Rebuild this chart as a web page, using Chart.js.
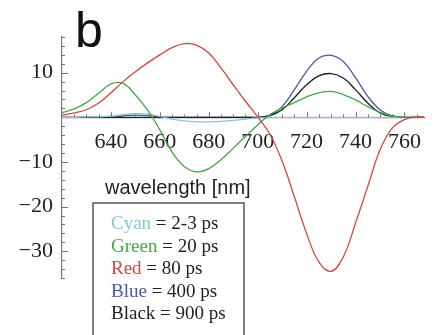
<!DOCTYPE html>
<html>
<head>
<meta charset="utf-8">
<script src="https://cdn.jsdelivr.net/npm/chart.js@4"></script>
<style>
  html, body { margin: 0; padding: 0; background: #fff; }
  #wrap { width: 436px; height: 335px; }
</style>
</head>
<body>
<div id="wrap"><canvas id="spectra" width="436" height="335"></canvas></div>
<script>
// wavelength grid (nm)
const wavelengths = [620, 625, 630, 635, 640, 645, 650, 655, 660, 665, 670, 675, 680, 685, 690,
                     695, 700, 705, 710, 715, 720, 725, 730, 735, 740, 745, 750, 755, 760, 765, 768];

// amplitude spectra, one per lifetime component
const cyanValues  = [0, 0, 0.1, 0.1, 0.3, 0.6, 0.8, 0.7, 0.2, -0.4, -0.8, -1.0, -1.0, -0.9, -0.7,
                     -0.4, -0.1, 0, 0, 0, 0, 0, 0, 0, 0, 0, 0, 0, 0, 0, 0];
const greenValues = [1.0, 1.9, 3.3, 5.4, 7.5, 7.6, 5.0, 1.6, -2.8, -7.8, -11.0, -12.2, -11.5, -9.5, -6.9,
                     -4.3, -1.7, 0.6, 2.1, 3.3, 4.6, 5.5, 5.8, 5.1, 3.9, 2.4, 1.1, 0.3, 0, 0, 0];
const redValues   = [0.5, 1.0, 1.7, 3.2, 5.5, 8.0, 10.2, 12.2, 14.0, 15.6, 16.5, 16.2, 14.4, 11.1, 7.3,
                     3.6, 0.1, -3.8, -9.8, -17.8, -26.0, -32.4, -34.5, -31.3, -23.7, -15.5, -7.3, -2.4, -0.5, 0.1, 0.1];
const blueValues  = [0, 0, 0, 0, 0, 0.3, 0.5, 0.4, 0.1, 0, 0, 0, 0, 0, 0,
                     0, 0, 0.5, 2.4, 6.2, 10.3, 13.3, 13.9, 12.5, 8.9, 4.7, 1.7, 0.3, 0, 0, 0];
const blackValues = [0, 0, 0, 0, 0, 0, 0, 0, 0, 0, 0, 0, 0, 0, 0,
                     0, 0, 0.4, 1.7, 4.4, 7.3, 9.3, 9.8, 8.8, 6.2, 3.2, 1.0, 0.2, 0, 0, 0];

// legend text
const seriesNames = ['Cyan', 'Green', 'Red', 'Blue', 'Black'];
const lifetimes = ['2-3 ps', '20 ps', '80 ps', '400 ps', '900 ps'];

const colors = {
    Cyan: '#86c8d4',
    Green: '#45a847',
    Red: '#d4463e',
    Blue: '#4a5ca8',
    Black: '#1e1e1e'
};

const serif = '"Liberation Serif", "Times New Roman", serif';
const sans = '"Liberation Sans", Arial, sans-serif';

function toPoints(values) {
    return wavelengths.map((w, i) => ({ x: w, y: values[i] }));
}

function line(name, values) {
    return {
        label: name,
        data: toPoints(values),
        borderColor: colors[name],
        borderWidth: 1.3,
        pointRadius: 0,
        fill: false,
        tension: 0.4
    };
}

// minor ticks, panel letter, axis caption and the boxed legend
const decorations = {
    id: 'decorations',
    afterDraw(chart) {
        const ctx = chart.ctx;
        const xs = chart.scales.x;
        const ys = chart.scales.y;
        const x0 = xs.getPixelForValue(620);
        const y0 = ys.getPixelForValue(0);

        ctx.save();
        ctx.strokeStyle = '#777';
        ctx.lineWidth = 1;
        for (let w = 625; w <= 765; w += 5) {
            const px = Math.round(xs.getPixelForValue(w)) + 0.5;
            const len = (w % 20 === 0) ? 5 : 3;
            ctx.beginPath();
            ctx.moveTo(px, y0);
            ctx.lineTo(px, y0 - len);
            ctx.stroke();
        }
        for (let v = -36; v <= 18; v += 2) {
            if (v === 0) continue;
            const py = Math.round(ys.getPixelForValue(v)) + 0.5;
            const len = (v % 10 === 0) ? 6 : 3;
            ctx.beginPath();
            ctx.moveTo(x0, py);
            ctx.lineTo(x0 + len, py);
            ctx.stroke();
        }

        // panel letter
        ctx.fillStyle = '#111';
        ctx.font = '50px ' + sans;
        ctx.textBaseline = 'alphabetic';
        ctx.textAlign = 'left';
        ctx.fillText('b', 75, 47);

        // axis caption
        ctx.fillStyle = '#222';
        ctx.font = '20px ' + sans;
        ctx.fillText('wavelength [nm]', 105, 194);

        // legend box
        ctx.fillStyle = '#fff';
        ctx.fillRect(93, 203, 151, 140);
        ctx.strokeStyle = '#555';
        ctx.lineWidth = 1.5;
        ctx.strokeRect(93, 203, 151, 140);

        ctx.font = '19px ' + serif;
        seriesNames.forEach((name, i) => {
            const by = 229 + i * 22.5;
            ctx.fillStyle = colors[name];
            ctx.fillText(name, 111, by);
            const w = ctx.measureText(name).width;
            ctx.fillStyle = '#222';
            ctx.fillText(' = ' + lifetimes[i], 111 + w, by);
        });
        ctx.restore();
    }
};

const ctx = document.getElementById('spectra').getContext('2d');

new Chart(ctx, {
    type: 'line',
    data: {
        datasets: [
            line('Red', redValues),
            line('Green', greenValues),
            line('Cyan', cyanValues),
            line('Black', blackValues),
            line('Blue', blueValues)
        ]
    },
    options: {
        responsive: false,
        animation: false,
        devicePixelRatio: 1,
        layout: {
            padding: { left: 0, top: 37, right: 0, bottom: 57 }
        },
        plugins: {
            legend: { display: false },
            tooltip: { enabled: false }
        },
        scales: {
            x: {
                type: 'linear',
                min: 620,
                max: 768,
                position: { y: 0 },
                afterFit(scale) { scale.height = 0; },
                grid: { display: false, drawTicks: false },
                border: { display: true, color: '#777', width: 1.2 },
                ticks: {
                    stepSize: 5,
                    autoSkip: false,
                    maxRotation: 0,
                    padding: 12,
                    color: '#222',
                    font: { family: serif, size: 22 },
                    callback: (v) => (v % 20 === 0 && v >= 640 && v <= 760) ? String(v) : ''
                }
            },
            y: {
                type: 'linear',
                min: -36,
                max: 18,
                position: 'left',
                afterFit(scale) { scale.width = 62; },
                grid: { display: false, drawTicks: false },
                border: { display: true, color: '#777', width: 1.2 },
                ticks: {
                    stepSize: 10,
                    autoSkip: false,
                    padding: 9,
                    color: '#222',
                    font: { family: serif, size: 22 },
                    callback: (v) => (v % 10 === 0 && v !== 0) ? String(v).replace('-', '\u2212') : ''
                }
            }
        }
    },
    plugins: [decorations]
});
</script>
</body>
</html>
